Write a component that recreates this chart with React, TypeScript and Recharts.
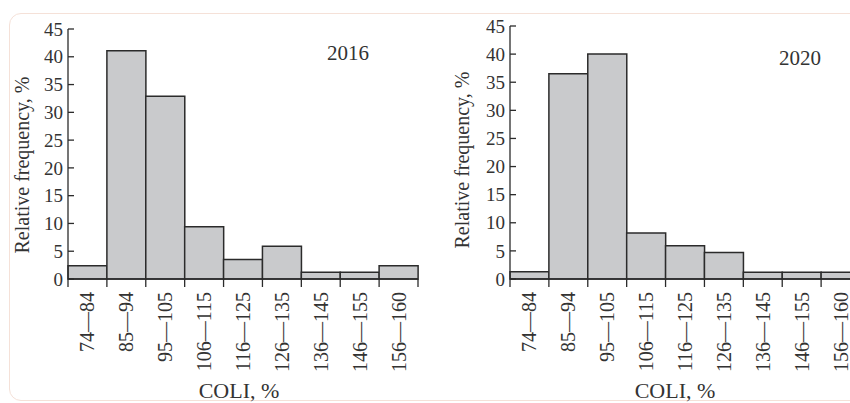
import React from 'react';
import { BarChart, Bar, XAxis, YAxis } from 'recharts';

const categories = ['74—84', '85—94', '95—105', '106—115', '116—125', '126—135', '136—145', '146—155', '156—160'];
const freq2016 = [2.4, 41.1, 32.9, 9.4, 3.5, 5.9, 1.2, 1.2, 2.4];
const freq2020 = [1.3, 36.5, 40.0, 8.2, 5.9, 4.7, 1.2, 1.2, 1.2];
const yTicks = [0, 5, 10, 15, 20, 25, 30, 35, 40, 45];

const FONT = '"Liberation Serif", "Times New Roman", serif';
const INK = '#2b2b2b';
const PLOT_W = 350;
const BAND = PLOT_W / categories.length;

const XTick = (props: any) => {
  const { x, y, payload, index } = props;
  const half = BAND / 2;
  return (
    <g>
      <line x1={x - half} x2={x - half} y1={y} y2={y + 8} stroke={INK} strokeWidth={1.3} />
      {index === categories.length - 1 && (
        <line x1={x + half} x2={x + half} y1={y} y2={y + 8} stroke={INK} strokeWidth={1.3} />
      )}
      <text
        transform={`translate(${x},${y + 13}) rotate(-90)`}
        textAnchor="end"
        dy="0.35em"
        fontFamily={FONT}
        fontSize={20}
        fill="#333"
      >
        {payload.value}
      </text>
    </g>
  );
};

const YTick = (props: any) => {
  const { x, y, payload } = props;
  return (
    <g>
      <line x1={x} x2={x + 6} y1={y} y2={y} stroke={INK} strokeWidth={1.3} />
      <text x={x - 5} y={y} dy="0.35em" textAnchor="end" fontFamily={FONT} fontSize={19} fill="#333">
        {payload.value}
      </text>
    </g>
  );
};

interface PanelProps {
  values: number[];
  year: string;
  top: number;
  left: number;
  yearX: number;
  yearY: number;
  titleX: number;
  yLabelX: number;
  yLabelY: number;
}

const Panel: React.FC<PanelProps> = ({ values, year, top, left, yearX, yearY, titleX, yLabelX, yLabelY }) => {
  const data = categories.map((c, i) => ({ name: c, value: values[i] }));
  return (
    <BarChart
      width={430}
      height={403}
      data={data}
      barCategoryGap={0}
      margin={{ top, right: 430 - 60 - left - PLOT_W, left, bottom: 14 }}
    >
      <XAxis
        dataKey="name"
        height={110}
        interval={0}
        tickSize={0}
        tickMargin={0}
        tickLine={false}
        axisLine={{ stroke: INK, strokeWidth: 1.5 }}
        tick={<XTick />}
      />
      <YAxis
        width={60}
        domain={[0, 45]}
        ticks={yTicks}
        interval={0}
        tickSize={0}
        tickMargin={0}
        tickLine={false}
        axisLine={{ stroke: INK, strokeWidth: 1.3 }}
        tick={<YTick />}
      />
      <Bar dataKey="value" fill="#c9cacc" stroke={INK} strokeWidth={1.5} isAnimationActive={false} />
      <text x={yearX} y={yearY} textAnchor="middle" fontFamily={FONT} fontSize={21} fill="#333">
        {year}
      </text>
      <text x={titleX} y={398} textAnchor="middle" fontFamily={FONT} fontSize={22} fill="#333">
        COLI, %
      </text>
      <text
        transform={`translate(${yLabelX},${yLabelY}) rotate(-90)`}
        textAnchor="middle"
        dy="0.35em"
        fontFamily={FONT}
        fontSize={20}
        fill="#333"
      >
        Relative frequency, %
      </text>
    </BarChart>
  );
};

export default function App() {
  return (
    <div style={{ position: 'fixed', left: 0, top: 0, width: 850, height: 403, overflow: 'hidden', background: '#fff' }}>
      <div
        style={{
          position: 'absolute',
          left: 9,
          top: 13,
          width: 900,
          height: 386,
          border: '1.5px solid #f5e1d8',
          borderRadius: 12,
        }}
      />
      <div style={{ position: 'absolute', left: 0, top: 0 }}>
        <Panel values={freq2016} year="2016" top={29} left={8} yearX={348} yearY={60} titleX={239} yLabelX={22} yLabelY={165} />
      </div>
      <div style={{ position: 'absolute', left: 430, top: 0 }}>
        <Panel values={freq2020} year="2020" top={26} left={20} yearX={370} yearY={65} titleX={245} yLabelX={32} yLabelY={160} />
      </div>
    </div>
  );
}
